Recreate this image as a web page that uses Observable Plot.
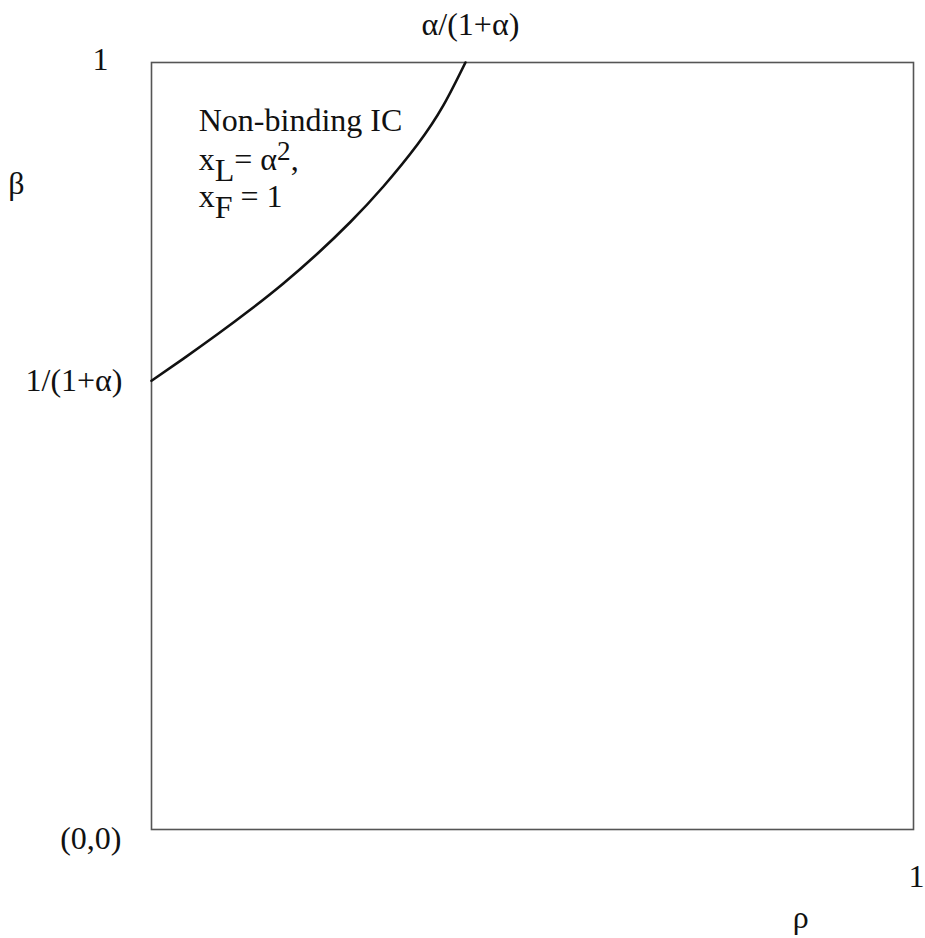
<!DOCTYPE html>
<html>
<head>
<meta charset="utf-8">
<script src="https://cdn.jsdelivr.net/npm/d3@7"></script>
<script src="https://cdn.jsdelivr.net/npm/@observablehq/plot@0.6"></script>
<style>
  html, body { margin: 0; padding: 0; background: #fff; }
  #chart svg { display: block; }
</style>
</head>
<body>
<div id="chart"></div>
<script>
// Boundary curve (rho, beta)
const curveRho  = [0, 0.042, 0.087, 0.130, 0.173, 0.218, 0.261, 0.304, 0.349, 0.383, 0.412];
const curveBeta = [0.585, 0.614, 0.646, 0.678, 0.712, 0.751, 0.792, 0.838, 0.893, 0.944, 1.0];

// Tick values and their labels
const yTickValues = [1, 0.585, 0];
const yTickLabels = ["1", "1/(1+α)", "(0,0)"];
const xTickValues = [0.412, 1];
const xTickLabels = ["α/(1+α)", "1"];

// Axis titles
const yTitle = "β";
const xTitle = "ρ";
const yTitleAt = 0.842;
const xTitleAt = 0.852;

// Region annotation
const noteLines = ["Non-binding IC", "x_{L}= α^{2},", "x_{F} = 1"];
const noteX = 0.062;
const noteY = [0.924, 0.8735, 0.8255];

const curve = curveRho.map((r, i) => ({rho: r, beta: curveBeta[i]}));
const notes = noteLines.map((t, i) => ({t, x: noteX, y: noteY[i]}));

const FONT = "Liberation Serif, Times New Roman, serif";
const FS = 32;
const txt = {fontFamily: FONT, fontSize: FS, fill: "#111"};

const plot = Plot.plot({
  width: 925,
  height: 938,
  marginLeft: 151,
  marginRight: 12,
  marginTop: 62,
  marginBottom: 109,
  x: {domain: [0, 1], axis: null},
  y: {domain: [0, 1], axis: null},
  style: {background: "white", overflow: "visible", fontFamily: FONT},
  marks: [
    Plot.frame({stroke: "#555", strokeWidth: 1.6}),
    Plot.line(curve, {x: "rho", y: "beta", curve: "natural", stroke: "#111", strokeWidth: 2.6}),
    // y tick labels
    Plot.text([yTickLabels[0]], {x: () => 0, y: () => yTickValues[0], text: d => d, textAnchor: "end", dx: -43, dy: -3, ...txt}),
    Plot.text([yTickLabels[1]], {x: () => 0, y: () => yTickValues[1], text: d => d, textAnchor: "end", dx: -29, ...txt}),
    Plot.text([yTickLabels[2]], {x: () => 0, y: () => yTickValues[2], text: d => d, textAnchor: "end", dx: -30, dy: 9, ...txt}),
    // x tick labels
    Plot.text([xTickLabels[0]], {x: () => xTickValues[0], y: () => 1, text: d => d, dx: 5, dy: -38, ...txt}),
    Plot.text([xTickLabels[1]], {x: () => xTickValues[1], y: () => 0, text: d => d, dx: 3, dy: 47, ...txt}),
    // axis titles
    Plot.text([yTitle], {x: () => 0, y: () => yTitleAt, text: d => d, dx: -135, ...txt}),
    Plot.text([xTitle], {x: () => xTitleAt, y: () => 0, text: d => d, dy: 88, ...txt}),
    // annotation
    Plot.text(notes, {x: "x", y: "y", text: "t", textAnchor: "start", ...txt})
  ]
});

// Render _{..} as subscripts and ^{..} as superscripts
d3.select(plot).selectAll("text")
  .filter(function() { return /[_^]\{/.test(this.textContent); })
  .each(function() {
    const t = this.textContent;
    const parts = [];
    const re = /([_^])\{([^}]*)\}/g;
    let last = 0, m;
    while ((m = re.exec(t))) {
      if (m.index > last) parts.push({s: t.slice(last, m.index), k: "n"});
      parts.push({s: m[2], k: m[1]});
      last = re.lastIndex;
    }
    if (last < t.length) parts.push({s: t.slice(last), k: "n"});
    while (this.firstChild) this.removeChild(this.firstChild);
    let cur = 0;
    for (const p of parts) {
      const shift = p.k === "_" ? 11 : p.k === "^" ? -10 : 0;
      const ts = d3.select(this).append("tspan").text(p.s);
      if (shift - cur !== 0) ts.attr("dy", shift - cur);
      if (p.k === "^") ts.attr("font-size", "0.85em");
      cur = shift;
    }
  });

document.getElementById("chart").appendChild(plot);
</script>
</body>
</html>
